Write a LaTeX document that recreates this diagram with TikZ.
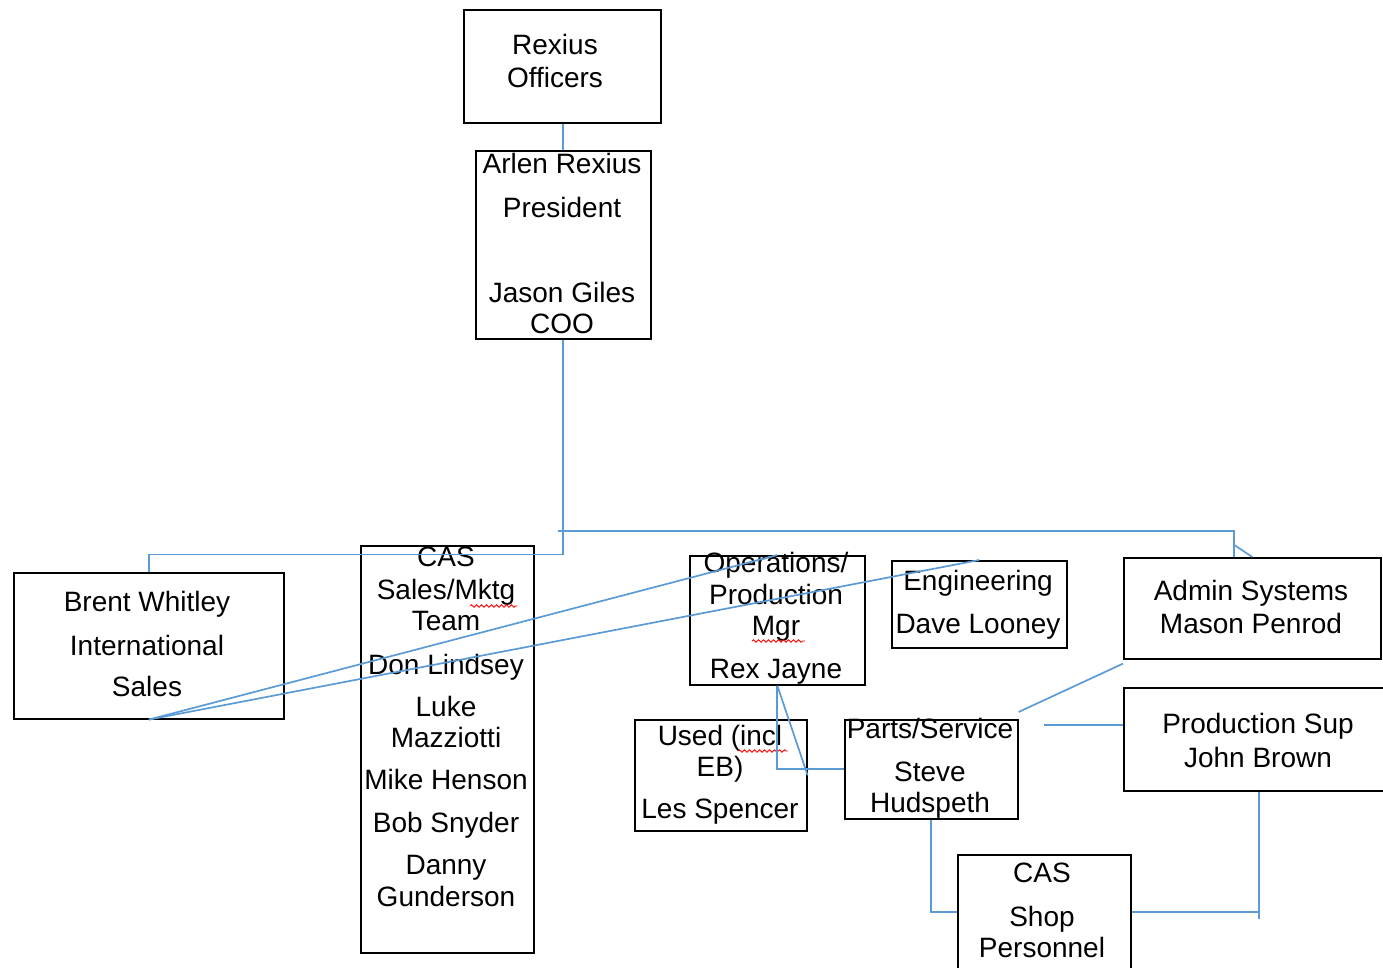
\documentclass[tikz,border=0pt]{standalone}
\usepackage{fontspec}
\setmainfont{Liberation Sans}
\usepackage{xcolor}
\usetikzlibrary{decorations.pathmorphing}
\definecolor{linkblue}{RGB}{91,155,213}

\begin{document}
\begin{tikzpicture}[x=1pt,y=-1pt,
    box/.style={draw,rectangle,line width=1.6pt,anchor=north west,inner sep=0pt},
    txt/.style={align=center,inner sep=0pt,font=\fontsize{28}{31}\selectfont},
    link/.style={draw=linkblue,line width=1.7pt},
    typo/.style={draw=red,line width=0.9pt,decorate,decoration={snake,amplitude=1.2pt,segment length=5pt}}]
				\useasboundingbox (0,0) rectangle (1383,968);
				% boxes
				\node[box,minimum width=197pt,minimum height=113pt] (off) at (463,9) {};
				\node[box,minimum width=175pt,minimum height=188pt] (pres) at (475,150) {};
				\node[box,minimum width=270pt,minimum height=146pt] (brent) at (13,572) {};
				\node[box,minimum width=173pt,minimum height=407pt] (sales) at (360,545) {};
				\node[box,minimum width=175pt,minimum height=129pt] (ops) at (689,555) {};
				\node[box,minimum width=175pt,minimum height=87pt] (eng) at (891,560) {};
				\node[box,minimum width=257pt,minimum height=101pt] (admin) at (1123,557) {};
				\node[box,minimum width=172pt,minimum height=111pt] (used) at (634,719) {};
				\node[box,minimum width=173pt,minimum height=99pt] (parts) at (844,719) {};
				\node[box,minimum width=270pt,minimum height=103pt] (prodsup) at (1123,687) {};
				\node[box,minimum width=173pt,minimum height=114pt] (shop) at (957,854) {};
				% texts
				\node[txt] (offtxt) at (555,61) {Rexius\\[2pt]Officers};
				\node[txt] (prestxt) at (562,243) {Arlen Rexius\\[13pt]President\\[54pt]Jason Giles\\COO};
				\node[txt] (brenttxt) at (147,644) {Brent Whitley\\[13pt]International\\[10pt]Sales};
				\node[txt] (salestxt) at (446,727) {CAS\\[2pt]Sales/Mktg\\Team\\[13pt]Don Lindsey\\[11pt]Luke\\Mazziotti\\[11pt]Mike Henson\\[12pt]Bob Snyder\\[11pt]Danny\\[1pt]Gunderson};
				\node[txt] (opstxt) at (776,618) {Operations/\\[1pt]Production\\Mgr\\[12pt]Rex Jayne};
				\node[txt] (engtxt) at (978,605) {Engineering\\[12pt]Dave Looney};
				\node[txt] (admintxt) at (1251,607) {Admin Systems\\[2pt]Mason Penrod};
				\node[txt] (usedtxt) at (720,775) {Used (incl\\EB)\\[11pt]Les Spencer};
				\node[txt] (partstxt) at (930,768) {Parts/Service\\[12pt]Steve\\Hudspeth};
				\node[txt] (prodsuptxt) at (1258,740) {Production Sup\\[3pt]John Brown};
				\node[txt] (shoptxt) at (1042,910) {CAS\\[13pt]Shop\\Personnel};
				% spelling marks
				\draw[typo] (470,606) -- (517,606);
				\draw[typo] (752,641) -- (805,641);
				\draw[typo] (738,751) -- (788,751);
				% connectors
				\draw[link] (off.south -| pres.north) -- (pres.north);
				\draw[link] (pres.south) -- ++(0,215) -| (brent.north);
				\draw[link] ([xshift=-5pt]pres.south |- 0,531) -| ([xshift=-18pt]admin.north);
				\draw[link] ([xshift=-18pt,yshift=12pt]admin.north) -- (admin.north);
				\draw[link] (brent.south) -- (ops.north);
				\draw[link] (brent.south) -- (eng.north);
				\draw[link] (ops.south) -- (used.east);
				\draw[link] (ops.south) |- (parts.west);
				\draw[link] ([yshift=-4pt]admin.south west) -- ([yshift=7pt]parts.north east);
				\coordinate (supfree) at (1044,725);
				\draw[link] (supfree) -- (supfree -| prodsup.west);
				\draw[link] (parts.south) |- (shop.west);
				\draw[link] (shop.east) -- (shop.east -| prodsup.south);
				\draw[link] (prodsup.south) -- ++(0,127);
			\end{tikzpicture}
\end{document}
